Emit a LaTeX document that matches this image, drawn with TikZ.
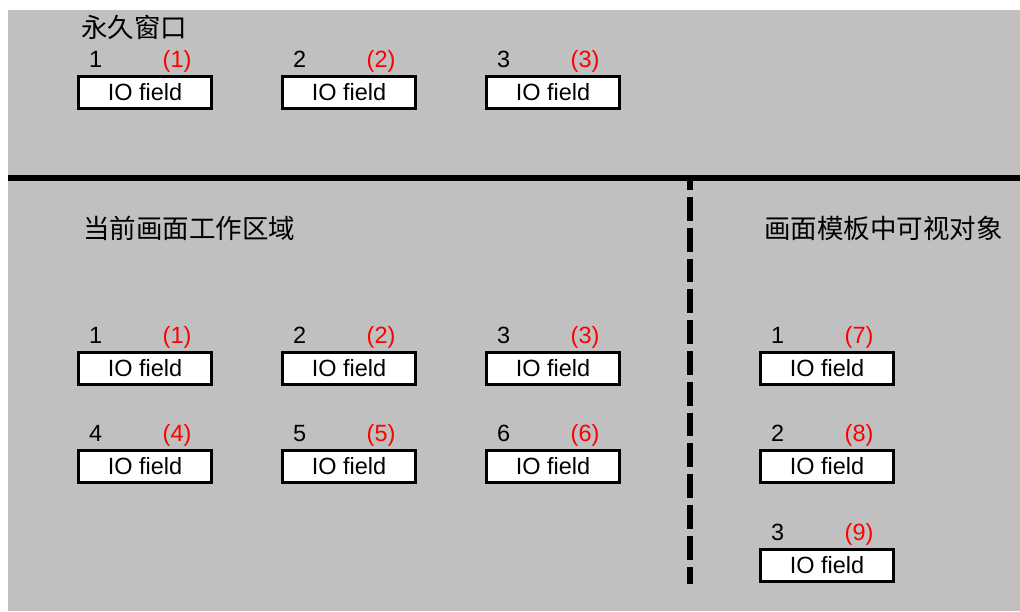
\documentclass[tikz,border=0pt]{standalone}
\usepackage{fontspec}
\setmainfont{Liberation Sans}
\newfontfamily\cjk{Noto Sans CJK SC}
\definecolor{bggray}{RGB}{192,192,192}
\definecolor{labred}{RGB}{255,0,0}
\newcommand\iofield[5]{%
  \node[iobox] (#1) at (#2,#3) {IO field};
  \node[numlabel] (#1num) at ({#2-56},{#3-25.5}) {#4};
  \node[redlabel] (#1tag) at ({#2+17.5},{#3-25.5}) {#5};
}
\begin{document}
\begin{tikzpicture}[x=1pt,y=-1pt,
  iobox/.style={draw=black, line width=3pt, fill=white, minimum width=133pt,
    minimum height=32pt, inner sep=0pt, font=\fontsize{23.5}{28}\selectfont},
  numlabel/.style={anchor=base west, inner sep=0pt, font=\fontsize{23.5}{28}\selectfont},
  redlabel/.style={numlabel, text=labred},
  title/.style={anchor=west, inner sep=0pt, font=\cjk\fontsize{26.5}{30}\selectfont, text=black},
  divider/.style={line width=6pt, draw=black},
  dashdivider/.style={line width=6pt, draw=black, dash pattern=on 23.8pt off 7pt, dash phase=14.8pt}]
\useasboundingbox (0,0) rectangle (1020,611);
\fill[bggray] (8,10) rectangle (1020,611);
% dividers
\coordinate (vtop) at (690,181);
\coordinate (vbot) at (690,584);
\draw[dashdivider] (vtop) -- (vbot);
\coordinate (hleft) at (8,178);
\coordinate (hright) at (1020,178);
\draw[divider] (hleft) -- (hright);
% titles
\node[title] (t1) at (81,27.5) {永久窗口};
\node[title] (t2) at (83,228.5) {当前画面工作区域};
\node[title] (t3) at (764,228.5) {画面模板中可视对象};
% permanent window
\iofield{p1}{145}{92.5}{1}{(1)}
\iofield{p2}{349}{92.5}{2}{(2)}
\iofield{p3}{553}{92.5}{3}{(3)}
% current screen work area
\iofield{c1}{145}{368.5}{1}{(1)}
\iofield{c2}{349}{368.5}{2}{(2)}
\iofield{c3}{553}{368.5}{3}{(3)}
\iofield{c4}{145}{466.5}{4}{(4)}
\iofield{c5}{349}{466.5}{5}{(5)}
\iofield{c6}{553}{466.5}{6}{(6)}
% template objects
\iofield{m1}{827}{368.5}{1}{(7)}
\iofield{m2}{827}{466.5}{2}{(8)}
\iofield{m3}{827}{565.5}{3}{(9)}
\end{tikzpicture}
\end{document}
